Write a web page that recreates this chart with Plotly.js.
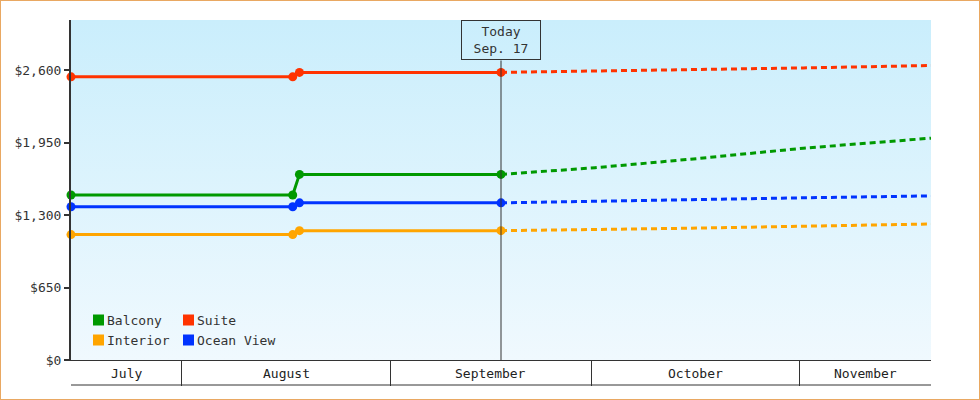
<!DOCTYPE html>
<html>
<head>
<meta charset="utf-8">
<script src="https://cdn.plot.ly/plotly-3.0.1.min.js"></script>
<style>
  html, body { margin: 0; padding: 0; background: #fff; }
  #wrap { position: relative; width: 980px; height: 400px; }
  #chart { width: 980px; height: 400px; }
  #frame { position: absolute; left: 0; top: 0; width: 978px; height: 398px; border: 1px solid #e9a862; pointer-events: none; }
</style>
</head>
<body>
<div id="wrap"><div id="chart"></div><div id="frame"></div></div>
<script>
// cabin types, in legend order
const series = ["Balcony", "Suite", "Interior", "Ocean View"];
const colors = ["#009900", "#ff3300", "#ffa500", "#0033ff"];

// price history up to today
const pastDates = ["2015-07-15 12:00", "2015-08-17 12:00", "2015-08-18 12:00", "2015-09-17 12:00"];
const balconyPast = [1480, 1480, 1665, 1665];
const suitePast = [2540, 2540, 2580, 2580];
const interiorPast = [1125, 1125, 1160, 1160];
const oceanPast = [1375, 1375, 1410, 1410];

// forecast after today
const forecastDates = ["2015-09-17 12:00", "2015-10-01 12:00", "2015-10-15 12:00", "2015-11-01 12:00", "2015-11-20 12:00"];
const balconyForecast = [1665, 1725, 1800, 1900, 1990];
const suiteForecast = [2580, 2592, 2604, 2620, 2642];
const interiorForecast = [1160, 1168, 1182, 1200, 1220];
const oceanForecast = [1410, 1422, 1436, 1455, 1472];

const months = ["July", "August", "September", "October", "November"];
const monthStarts = ["2015-07-01", "2015-08-01", "2015-09-01", "2015-10-01", "2015-11-01", "2015-12-01"];
const xRange = ["2015-07-15 12:00", "2015-11-20 12:00"];
const today = "2015-09-17 12:00";
const todayLabel = "Today<br>Sep. 17";
const yTicks = [0, 650, 1300, 1950, 2600];

const FONT = "DejaVu Sans Mono, monospace";
const INK = "#333";

const past = [balconyPast, suitePast, interiorPast, oceanPast];
const forecast = [balconyForecast, suiteForecast, interiorForecast, oceanForecast];

const data = [];
series.forEach((name, i) => {
    data.push({
        x: forecastDates, y: forecast[i], name: name, type: "scatter", mode: "lines",
        line: { color: colors[i], width: 3, dash: "6px,4px" },
        showlegend: false, cliponaxis: false
    });
    data.push({
        x: pastDates, y: past[i], name: name, type: "scatter", mode: "lines+markers",
        line: { color: colors[i], width: 3 },
        marker: { color: colors[i], size: 9 },
        showlegend: false, cliponaxis: false
    });
});

// month labels centred in the visible part of each month
const toMs = s => Date.parse(s.replace(" ", "T") + (s.length > 10 ? "Z" : "T00:00Z"));
const toStr = ms => new Date(ms).toISOString().replace("T", " ").replace("Z", "");
const r0 = toMs(xRange[0]), r1 = toMs(xRange[1]);
const annotations = months.map((m, i) => {
    const a = Math.max(toMs(monthStarts[i]), r0);
    const b = Math.min(toMs(monthStarts[i + 1]), r1);
    return {
        x: toStr((a + b) / 2), xref: "x", y: 0, yref: "paper", yanchor: "middle", yshift: -13,
        text: m, showarrow: false, font: { family: FONT, size: 13, color: "#222" }
    };
});

annotations.push({
    x: today, xref: "x", y: 1, yref: "paper", yanchor: "top", xanchor: "center",
    text: todayLabel, showarrow: false, align: "center",
    bordercolor: INK, borderwidth: 1, borderpad: 2, width: 74, height: 34,
    font: { family: FONT, size: 13, color: INK }
});

const shapes = [
    { type: "line", xref: "x", x0: today, x1: today, yref: "paper", y0: 0, y1: 1 - 40.5 / 340,
      line: { color: INK, width: 1 } },
    { type: "line", xref: "paper", x0: 0, x1: 1, yref: "paper", ysizemode: "pixel", yanchor: 0,
      y0: -25, y1: -25, line: { color: INK, width: 1 } }
];

// legend: two columns, two rows, bottom-left inside the plot
const legCols = [22, 112], legRows = [40, 20];
series.forEach((name, i) => {
    const cx = legCols[i % 2], cy = legRows[Math.floor(i / 2)];
    shapes.push({
        type: "rect", xref: "paper", xsizemode: "pixel", xanchor: 0, x0: cx, x1: cx + 11,
        yref: "paper", ysizemode: "pixel", yanchor: 0, y0: cy - 5.5, y1: cy + 5.5,
        fillcolor: colors[i], line: { width: 0 }
    });
    annotations.push({
        x: 0, xref: "paper", xanchor: "left", xshift: cx + 12,
        y: 0, yref: "paper", yanchor: "middle", yshift: cy,
        text: name, showarrow: false, font: { family: FONT, size: 13, color: INK }
    });
});

const bg = "data:image/svg+xml;utf8," + encodeURIComponent(
    '<svg xmlns="http://www.w3.org/2000/svg" width="10" height="100" viewBox="0 0 10 100" preserveAspectRatio="none">' +
    '<defs><linearGradient id="g" x1="0" y1="0" x2="0" y2="1">' +
    '<stop offset="0" stop-color="#caeefc"/><stop offset="1" stop-color="#f0f9fe"/></linearGradient></defs>' +
    '<rect width="10" height="100" fill="url(#g)"/></svg>');

const layout = {
    width: 980, height: 400,
    margin: { l: 71, r: 49, t: 20, b: 40 },
    paper_bgcolor: "#fff",
    plot_bgcolor: "rgba(0,0,0,0)",
    showlegend: false,
    font: { family: FONT, size: 13, color: INK },
    images: [{ source: bg, xref: "paper", yref: "paper", x: 0, y: 1, sizex: 1, sizey: 1,
               sizing: "stretch", xanchor: "left", yanchor: "top", layer: "below" }],
    xaxis: {
        type: "date", range: xRange,
        tickmode: "array", tickvals: monthStarts, showticklabels: false,
        ticks: "outside", ticklen: 25, tickwidth: 1, tickcolor: INK,
        showline: true, linecolor: INK, linewidth: 1,
        showgrid: false, zeroline: false
    },
    yaxis: {
        range: [0, 3050],
        tickmode: "array", tickvals: yTicks,
        ticktext: yTicks.map(v => "$" + v.toLocaleString("en-US")),
        ticks: "outside", ticklen: 5, tickwidth: 2, tickcolor: INK,
        showline: true, linecolor: INK, linewidth: 2,
        showgrid: false, zeroline: false,
        tickfont: { family: FONT, size: 13, color: INK }
    },
    annotations: annotations,
    shapes: shapes
};

Plotly.newPlot("chart", data, layout, { staticPlot: true });
</script>
</body>
</html>
